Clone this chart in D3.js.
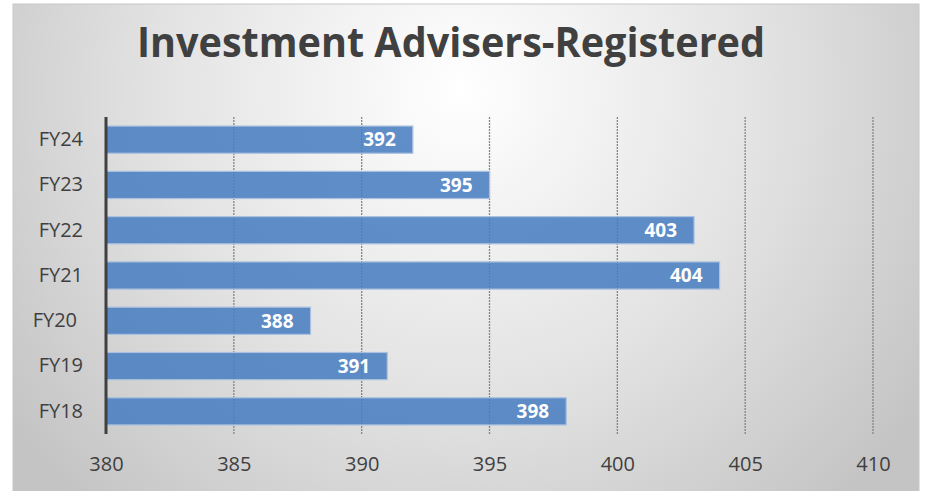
<!DOCTYPE html>
<html>
<head>
<meta charset="utf-8">
<script src="https://cdn.jsdelivr.net/npm/d3@7"></script>
<style>
  body { margin: 0; background: #fff; }
  text { font-family: "Open Sans", "Noto Sans", sans-serif; }
</style>
</head>
<body>
<div class="chart"></div>
<script>
// values
let years = ["FY24", "FY23", "FY22", "FY21", "FY20", "FY19", "FY18"];
let advisers = [392, 395, 403, 404, 388, 391, 398];
let xTicks = [380, 385, 390, 395, 400, 405, 410];

let outWidth = 926, outHeight = 491;
let margin = {top: 117, right: 53, left: 106, bottom: 57};
let width = outWidth - margin.left - margin.right,
    height = outHeight - margin.top - margin.bottom;

let rows = years.map((y, i) => ({year: y, value: advisers[i]}));

const svg = d3.select(".chart").append("svg")
    .attr("width", outWidth)
    .attr("height", outHeight);

const defs = svg.append("defs");
const bg = defs.append("radialGradient")
    .attr("id", "bg")
    .attr("gradientUnits", "userSpaceOnUse")
    .attr("cx", 460).attr("cy", 90).attr("r", 560);
bg.append("stop").attr("offset", "0%").attr("stop-color", "#ffffff");
bg.append("stop").attr("offset", "55%").attr("stop-color", "#e2e2e2");
bg.append("stop").attr("offset", "100%").attr("stop-color", "#c4c4c4");

// frame
svg.append("rect")
    .attr("x", 13).attr("y", 4)
    .attr("width", 906).attr("height", 490)
    .attr("fill", "url(#bg)")
    .attr("stroke", "#c8c8c8");

svg.append("text")
    .attr("x", 451)
    .attr("y", 57)
    .attr("text-anchor", "middle")
    .attr("font-size", 41)
    .attr("font-weight", "bold")
    .attr("fill", "#404040")
    .attr("textLength", 628)
    .attr("lengthAdjust", "spacingAndGlyphs")
    .text("Investment Advisers-Registered");

const g = svg.append("g")
    .attr("transform", `translate(${margin.left}, ${margin.top})`);

const xScale = d3.scaleLinear()
    .domain([380, 410])
    .range([0, 767]);
const yScale = d3.scaleBand()
    .domain(years)
    .range([0, height])
    .paddingInner(0.4)
    .paddingOuter(0.2);

// grid lines
g.selectAll(".grid")
    .data(xTicks.slice(1))
    .enter()
    .append("line")
    .attr("class", "grid")
    .attr("x1", d => xScale(d)).attr("x2", d => xScale(d))
    .attr("y1", 0).attr("y2", height)
    .attr("stroke", "#858585")
    .attr("stroke-width", 1.3)
    .attr("stroke-dasharray", "2,1");

g.selectAll(".bar")
    .data(rows)
    .enter()
    .append("rect")
    .attr("class", "bar")
    .attr("x", xScale(380))
    .attr("y", d => yScale(d.year))
    .attr("width", d => xScale(d.value) - xScale(380))
    .attr("height", yScale.bandwidth())
    .attr("fill", "#4a7ec0")
    .attr("fill-opacity", 0.88)
    .attr("stroke", "#a9c1df")
    .attr("stroke-width", 1.2);

g.selectAll(".val")
    .data(rows)
    .enter()
    .append("text")
    .attr("class", "val")
    .attr("x", d => xScale(d.value) - 17)
    .attr("y", d => yScale(d.year) + yScale.bandwidth() / 2)
    .attr("dy", "0.36em")
    .attr("text-anchor", "end")
    .attr("font-size", 19)
    .attr("font-weight", "bold")
    .attr("fill", "#ffffff")
    .text(d => d.value);

const xAxis = d3.axisBottom(xScale)
    .tickValues(xTicks)
    .tickSize(0)
    .tickPadding(23);
const yAxis = d3.axisLeft(yScale)
    .tickSize(0)
    .tickPadding(23);

const xg = g.append("g")
    .attr("class", "axis x-axis")
    .attr("transform", `translate(0, ${height})`)
    .call(xAxis);
xg.select(".domain").remove();
xg.selectAll("text")
    .attr("font-size", 20)
    .attr("fill", "#404040")
    .style("font-family", "'Open Sans', sans-serif");

const yg = g.append("g")
    .attr("class", "axis y-axis")
    .call(yAxis);
yg.select(".domain").remove();
yg.selectAll("text")
    .attr("font-size", 20)
    .attr("fill", "#404040")
    .style("font-family", "'Open Sans', sans-serif")
    .attr("dx", d => d === "FY20" ? -6 : 0);

// vertical axis line
g.append("line")
    .attr("x1", 0).attr("x2", 0)
    .attr("y1", 0).attr("y2", height)
    .attr("stroke", "#404040")
    .attr("stroke-width", 3);
</script>
</body>
</html>
